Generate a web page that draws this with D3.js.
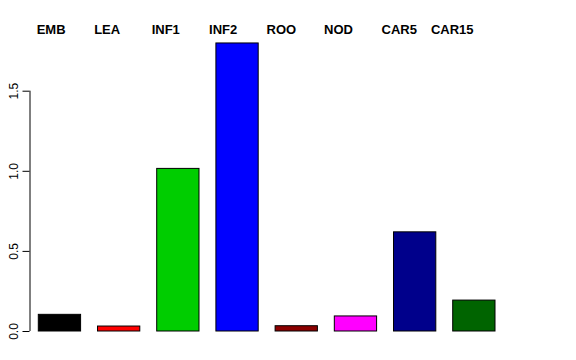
<!DOCTYPE html>
<html>
<head>
<meta charset="utf-8">
<script src="https://cdn.jsdelivr.net/npm/d3@7"></script>
<style>
html,body{margin:0;padding:0;background:#fff;}
svg{display:block;}
</style>
</head>
<body>
<svg id="chart" width="576" height="360"></svg>
<script>
const categories = ["EMB","LEA","INF1","INF2","ROO","NOD","CAR5","CAR15"];
const values = [0.104, 0.031, 1.015, 1.798, 0.033, 0.094, 0.619, 0.193];
const colors = ["#000000","#FF0000","#00CD00","#0000FF","#8B0000","#FF00FF","#00008B","#006400"];
const yTicks = [0, 0.5, 1.0, 1.5];
const yTickLabels = ["0.0","0.5","1.0","1.5"];

const svg = d3.select("#chart");
const font = "'Liberation Sans', Arial, Helvetica, sans-serif";

const x = d3.scaleBand().domain(categories).range([38.3, 495]).paddingInner(0.4/1.4).paddingOuter(0);
const y = d3.scaleLinear().domain([0, 1.5]).range([331, 90.7]);

// bars
svg.append("g").selectAll("rect").data(categories).join("rect")
  .attr("x", d => x(d))
  .attr("y", (d,i) => y(values[i]))
  .attr("width", x.bandwidth())
  .attr("height", (d,i) => y(0) - y(values[i]))
  .attr("fill", (d,i) => colors[i])
  .attr("stroke", "#000")
  .attr("stroke-width", 1);

// y axis
const yAxis = d3.axisLeft(y).tickValues(yTicks).tickFormat((d,i) => yTickLabels[i]).tickSize(7).tickPadding(0);
const ag = svg.append("g").attr("transform", "translate(29.5,0)").call(yAxis);
ag.select(".domain").attr("d", `M0.5,${y(1.5)}V${y(0)}`).attr("stroke","#000");
ag.selectAll(".tick line").attr("stroke","#000");
ag.selectAll(".tick text")
  .attr("font-family", font).attr("font-size", 12).attr("fill","#000")
  .attr("text-anchor","middle")
  .attr("x", null).attr("dy", null)
  .attr("transform", "translate(-12,0) rotate(-90)");

// top labels
const labelX = d3.scaleLinear().domain([0, categories.length - 1]).range([36.7, 439]);
const lg = svg.append("g");
lg.selectAll("text").data(categories).join("text")
  .attr("x", (d,i) => labelX(i))
  .attr("y", 34)
  .attr("font-family", font).attr("font-size", 13).attr("font-weight","bold")
  .attr("fill","#000")
  .text(d => d)
  .each(function(d,i){
    const w = this.getComputedTextLength();
    const limit = 473.5;
    const cur = labelX(i);
    if (cur + w > limit) d3.select(this).attr("x", limit - w);
  });
</script>
</body>
</html>
